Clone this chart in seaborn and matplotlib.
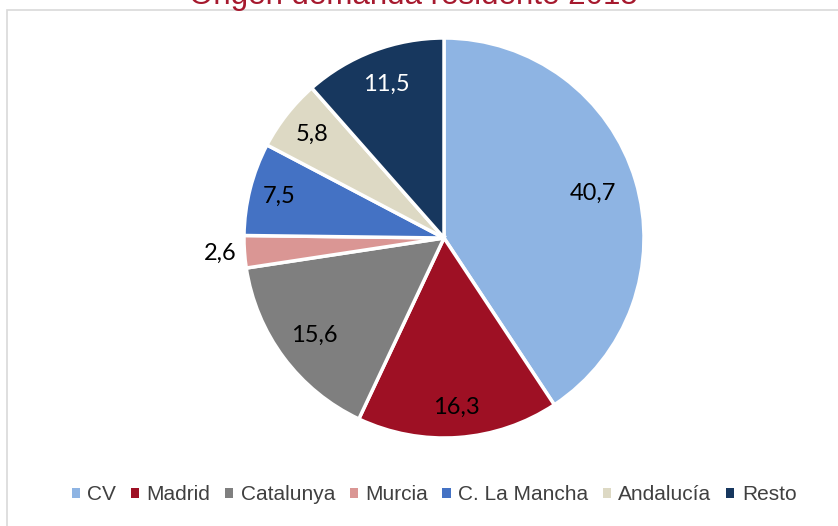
import matplotlib
matplotlib.use("Agg")
import matplotlib.pyplot as plt
import seaborn as sns
import numpy as np
from matplotlib.patches import Patch, Rectangle

# Data
regions = ["CV", "Madrid", "Catalunya", "Murcia", "C. La Mancha", "Andalucía", "Resto"]
shares = [40.7, 16.3, 15.6, 2.6, 7.5, 5.8, 11.5]
share_labels = ["40,7", "16,3", "15,6", "2,6", "7,5", "5,8", "11,5"]
colors = ["#8EB4E3", "#9E1024", "#7F7F7F", "#DA9694", "#4472C4", "#DDD9C4", "#17375E"]
label_colors = ["black", "black", "black", "black", "black", "black", "white"]
label_dist = [0.78, 0.85, 0.81, 1.12, 0.85, 0.84, 0.82]

sns.set_style("white")
plt.rcParams['font.family'] = ['Liberation Sans', 'DejaVu Sans']

fig = plt.figure(figsize=(8.38, 5.26), dpi=100)
ax = fig.add_axes([244 / 838, 88 / 526, 400 / 838, 400 / 526])

wedges, _ = ax.pie(shares, colors=colors, startangle=90, counterclock=False,
                   wedgeprops=dict(edgecolor="white", linewidth=2.5))
ax.set_xlim(-1, 1)
ax.set_ylim(-1, 1)
ax.set_aspect("equal")

# value labels at mid-angle of each wedge
for w, txt, c, d in zip(wedges, share_labels, label_colors, label_dist):
    ang = np.deg2rad((w.theta1 + w.theta2) / 2)
    ax.text(d * np.cos(ang), d * np.sin(ang), txt, ha="center", va="center",
            fontsize=17, color=c, family=["Lato", "DejaVu Sans"])

# chart frame
fig.patches.append(Rectangle((7 / 838, -0.1), 1.2, (516 / 526) + 0.1,
                             transform=fig.transFigure, fill=False,
                             edgecolor="#D9D9D9", linewidth=1.2))

fig.text(0.493, 1 - 4 / 526, "Origen demanda residente 2015", ha="center",
         va="baseline", fontsize=22.5, color="#A6192E")

handles = [Patch(facecolor=c, edgecolor="none") for c in colors]
fig.legend(handles, regions, loc="center", bbox_to_anchor=(0.518, 1 - 495 / 526),
           ncol=7, frameon=False, fontsize=15, handlelength=0.4, handleheight=0.4,
           handletextpad=0.35, columnspacing=0.7, labelcolor="#404040")

plt.savefig("out.png", dpi=100)
